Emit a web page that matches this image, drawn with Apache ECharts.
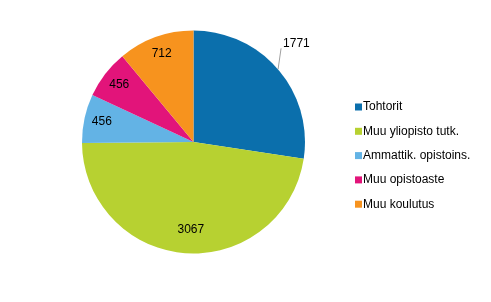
<!DOCTYPE html>
<html><head><meta charset="utf-8">
<script src="https://cdn.jsdelivr.net/npm/echarts@6/dist/echarts.min.js"></script>
<style>html,body{margin:0;padding:0;background:#fff}#c{width:491px;height:302px}</style>
</head><body><div id="c"></div>
<script>
var categories = ['Tohtorit', 'Muu yliopisto tutk.', 'Ammattik. opistoins.', 'Muu opistoaste', 'Muu koulutus'];
var values = [1771, 3067, 456, 456, 712];
var colors = ['#0b6fac', '#b7d131', '#63b3e5', '#e2147a', '#f7931e'];

var FONT = 'Arial, "Liberation Sans", sans-serif';
var chart = echarts.init(document.getElementById('c'), null, {renderer: 'canvas'});
var labelData = categories.map(function (n, i) {
  var o = {name: n, value: values[i]};
  if (i === 0) o.label = {show: false};
  if (i === 1) o.label = {offset: [4, -6]};
  return o;
});
var outData = categories.map(function (n, i) {
  var o = {name: n, value: values[i]};
  if (i !== 0) { o.label = {show: false}; o.labelLine = {show: false}; }
  return o;
});
chart.setOption({
  animation: false,
  color: colors,
  legend: {
    orient: 'vertical', left: 350, top: 96,
    itemWidth: 7, itemHeight: 7, itemGap: 12.3, icon: 'rect',
    textStyle: {fontFamily: FONT, fontSize: 12, color: '#000', padding: [0, 0, 0, -4]},
    data: categories
  },
  series: [
    {
      type: 'pie', center: [193.5, 142], radius: [0, 111.5],
      startAngle: 90, clockwise: true, silent: true,
      itemStyle: {borderWidth: 0},
      data: outData,
      label: {show: true, position: 'outside', fontFamily: FONT, fontSize: 12, color: '#000', formatter: '{c}'},
      labelLine: {show: true, length: 20, length2: 0, lineStyle: {color: '#a0a0a0', width: 1}},
      labelLayout: function (p) {
        if (!p.labelLinePoints) return {};
        var s = p.labelLinePoints[0];
        return {x: s[0] + 5, y: s[1] - 20, align: 'left', verticalAlign: 'bottom',
          labelLinePoints: [[s[0], s[1]], [s[0] + 3, s[1] - 21]]};
      }
    },
    {
      type: 'pie', center: [193.5, 142], radius: [70, 111.5],
      startAngle: 90, clockwise: true, silent: true,
      itemStyle: {color: 'rgba(0,0,0,0)', borderWidth: 0},
      data: labelData,
      label: {show: true, position: 'inside', fontFamily: FONT, fontSize: 12, color: '#000', formatter: '{c}'},
      labelLine: {show: false}
    }
  ]
});
</script></body></html>
